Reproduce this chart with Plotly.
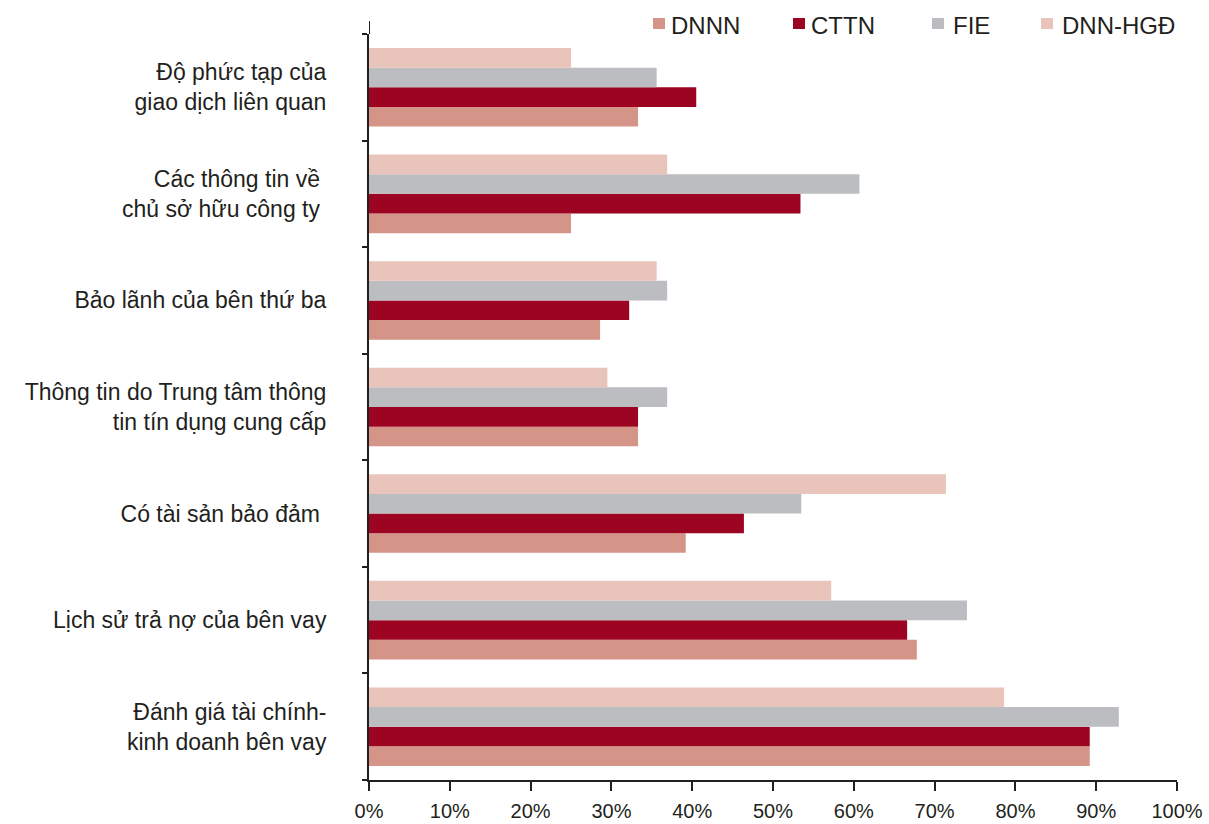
import plotly.graph_objects as go

# Criteria listed top to bottom as they appear on the chart
categories = [
    "Độ phức tạp của<br>giao dịch liên quan",
    "Các thông tin về\u00a0<br>chủ sở hữu công ty\u00a0",
    "Bảo lãnh của bên thứ ba",
    "Thông tin do Trung tâm thông<br>tin tín dụng cung cấp",
    "Có tài sản bảo đảm\u00a0",
    "Lịch sử trả nợ của bên vay",
    "Đánh giá tài chính-<br>kinh doanh bên vay",
]

series_names = ["DNNN", "CTTN", "FIE", "DNN-HGĐ"]

dnnn = [33.3, 25.0, 28.6, 33.3, 39.2, 67.8, 89.2]
cttn = [40.5, 53.4, 32.2, 33.3, 46.4, 66.6, 89.2]
fie = [35.6, 60.7, 36.9, 36.9, 53.5, 74.0, 92.8]
dnn_hgd = [25.0, 36.9, 35.6, 29.5, 71.4, 57.2, 78.6]

x_ticks = [0, 10, 20, 30, 40, 50, 60, 70, 80, 90, 100]

colors = ["#d59488", "#9c0421", "#bcbdc1", "#e8c4bb"]
ink = "#231f20"
font_family = "Liberation Sans, Arial, Helvetica, sans-serif"

# plot area in pixels
W, H = 1209, 824
L, R, T, B = 369, 1177, 34, 780
pw, ph = R - L, B - T


def px_x(p):
    return (p - L) / pw


def px_y(p):
    return (B - p) / ph


fig = go.Figure()
for name, vals, col in zip(series_names, [dnnn, cttn, fie, dnn_hgd], colors):
    fig.add_trace(go.Bar(
        y=categories,
        x=vals,
        name=name,
        orientation="h",
        marker=dict(color=col, line=dict(width=0)),
        showlegend=False,
    ))

fig.update_layout(
    width=W,
    height=H,
    margin=dict(l=L, r=W - R, t=T, b=H - B),
    paper_bgcolor="white",
    plot_bgcolor="white",
    barmode="group",
    bargap=0.263,
    bargroupgap=0,
    font=dict(family=font_family, color=ink),
    showlegend=False,
    xaxis=dict(
        range=[0, 100],
        tickvals=x_ticks,
        ticktext=[f"{v}%" for v in x_ticks],
        showgrid=False,
        zeroline=False,
        showline=True,
        linecolor=ink,
        linewidth=2,
        ticks="outside",
        ticklen=9,
        tickwidth=2,
        tickcolor=ink,
        tickfont=dict(size=20, color=ink, family=font_family),
        ticklabelstandoff=3,
        automargin=False,
        fixedrange=True,
    ),
    yaxis=dict(
        categoryorder="array",
        categoryarray=categories[::-1],
        showgrid=False,
        zeroline=False,
        showline=True,
        linecolor=ink,
        linewidth=2,
        ticks="outside",
        tickson="boundaries",
        ticklen=5,
        tickwidth=2,
        tickcolor=ink,
        tickfont=dict(size=23, color=ink, family=font_family),
        ticklabelstandoff=36,
        automargin=False,
        fixedrange=True,
    ),
)

# short extension of the category axis above the plot area
fig.add_shape(
    type="line",
    xref="x", yref="paper",
    x0=0, x1=0, y0=1, y1=px_y(T - 13),
    line=dict(color=ink, width=2),
)

# legend row: colour square followed by series name
legend_square_left = [653, 793, 932, 1041]
legend_text_left = [670, 810, 952, 1061]
for name, col, sx, tx in zip(series_names, colors, legend_square_left, legend_text_left):
    fig.add_shape(
        type="rect",
        xref="paper", yref="paper",
        x0=px_x(sx), x1=px_x(sx + 12),
        y0=px_y(29), y1=px_y(18),
        fillcolor=col, line=dict(width=0),
    )
    fig.add_annotation(
        xref="paper", yref="paper",
        x=px_x(tx), y=px_y(26),
        xanchor="left", yanchor="middle",
        text=name, showarrow=False,
        font=dict(size=24, color=ink, family=font_family),
        xshift=-1,
    )

fig.write_html("out.html")
